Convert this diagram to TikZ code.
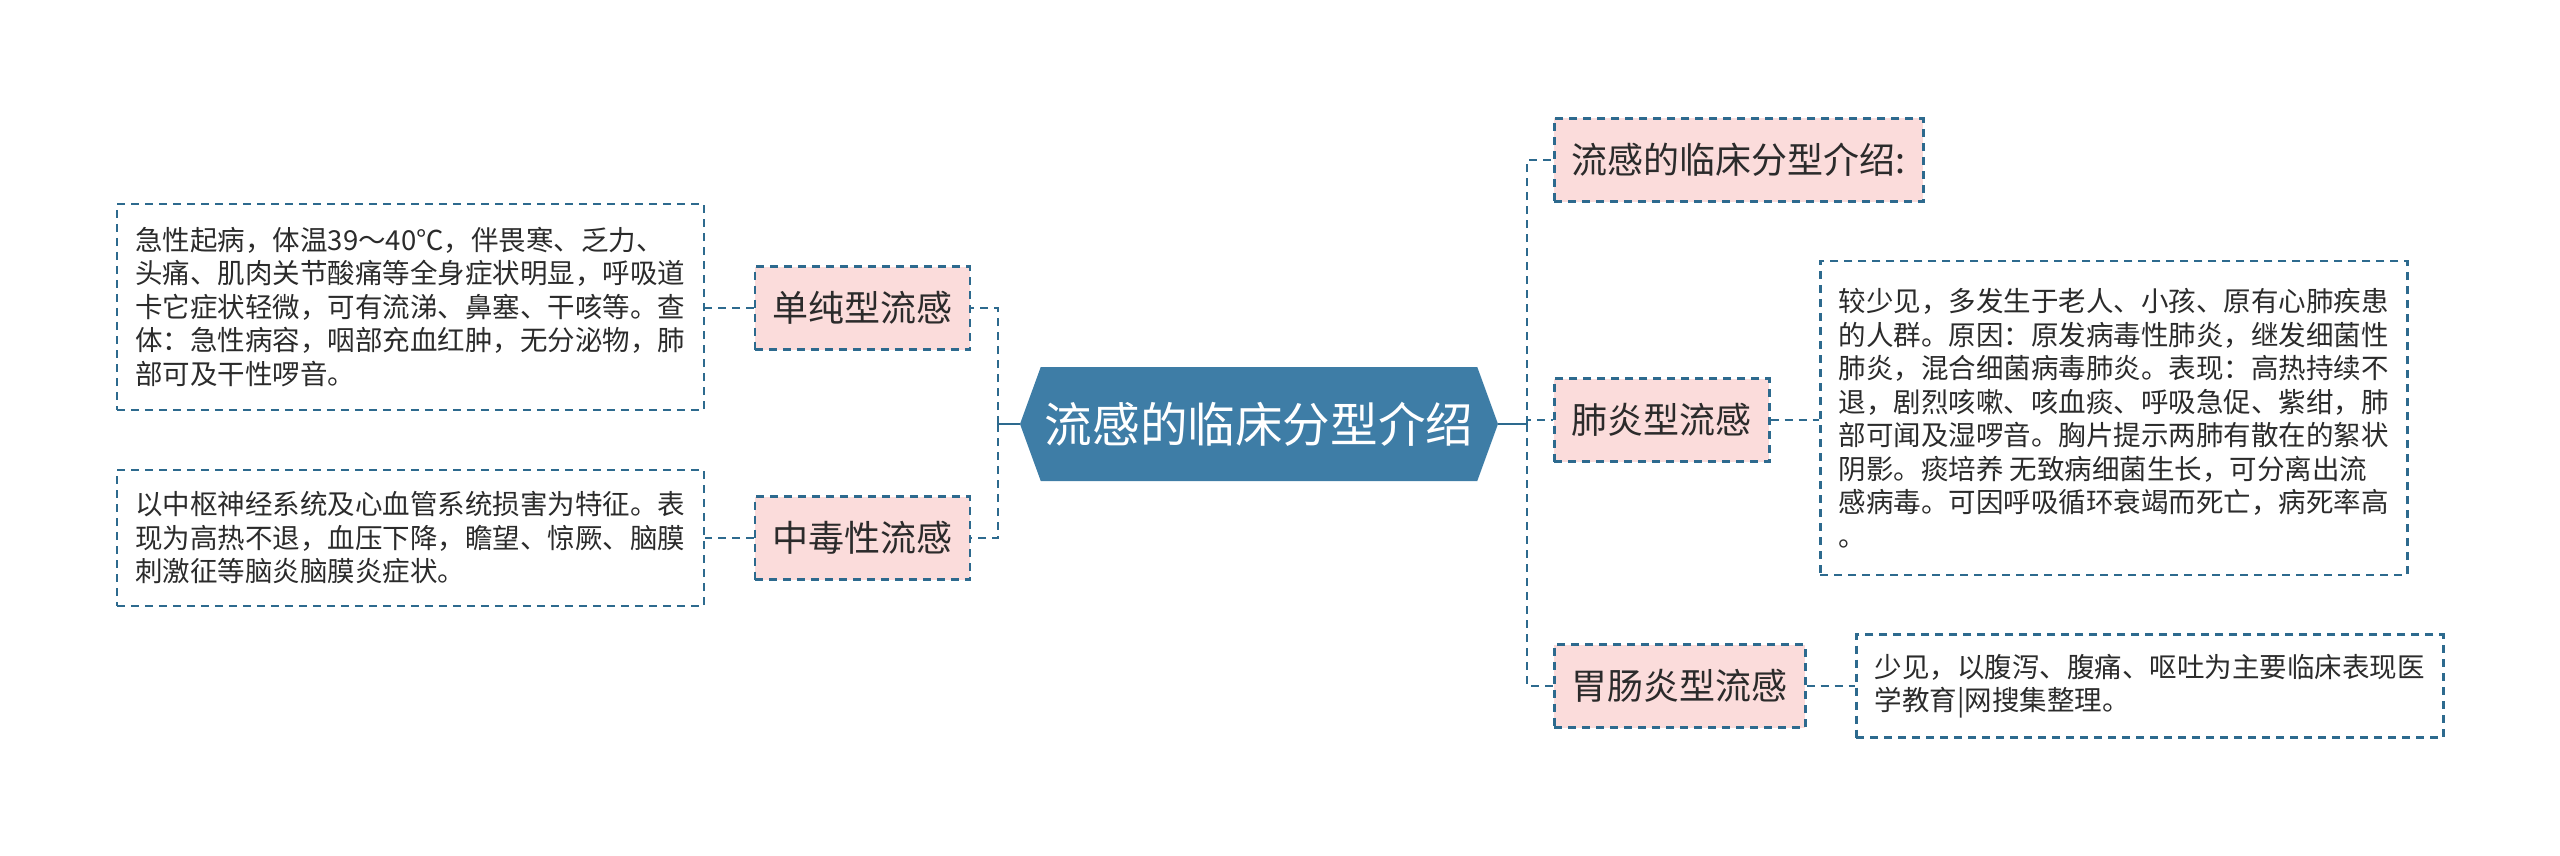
\documentclass[tikz,border=0pt]{standalone}
\usepackage{fontspec}
\setmainfont{Noto Sans CJK SC}
\usepackage{xcolor}
\usepackage{tikz}
\usetikzlibrary{shapes.symbols}
\definecolor{rootblue}{HTML}{3E7DA6}
\definecolor{lineblue}{HTML}{2D6A8E}
\definecolor{topicpink}{HTML}{FBDCDB}
\definecolor{inkgray}{HTML}{2B2B2B}
\tikzset{
  rootbox/.style={signal, signal to=west and east, signal pointer angle=140,
    fill=rootblue, inner sep=0pt, minimum width=239pt, minimum height=57pt,
    font=\fontsize{23.8}{28}\selectfont\color{white}},
  topicbox/.style={fill=topicpink, draw=lineblue, line width=1.25pt,
    dash pattern=on 4pt off 3pt, inner xsep=8.75pt, inner ysep=0pt,
    minimum height=41.5pt, font=\fontsize{18}{22}\selectfont\color{inkgray}},
  notebox/.style={draw=lineblue, line width=1.25pt, dash pattern=on 4pt off 3pt,
    align=left, inner sep=0pt, minimum width=293.5pt,
    font=\fontsize{13.75}{16.75}\selectfont\color{inkgray}},
  stem/.style={draw=lineblue, line width=1.25pt},
  twig/.style={draw=lineblue, line width=1.25pt, dash pattern=on 4pt off 3pt}
}

\begin{document}
\begin{tikzpicture}[x=0.5pt,y=-0.5pt]
  \useasboundingbox (0,0) rectangle (2560,856);

  \node[rootbox] (root) at (1259,424) {流感的临床分型介绍};
  \coordinate (lbus) at (998,424);
  \coordinate (rbus) at (1527,424);

  % left branch
  \node[topicbox, anchor=east] (simple) at (971,308) {单纯型流感};
  \node[topicbox, anchor=east] (toxic) at (971,538) {中毒性流感};
  \node[notebox, anchor=east, minimum height=103pt] (simplenote) at (705,307) {%
    急性起病，体温39～40℃，伴畏寒、乏力、\\
    头痛、肌肉关节酸痛等全身症状明显，呼吸道\\
    卡它症状轻微，可有流涕、鼻塞、干咳等。查\\
    体：急性病容，咽部充血红肿，无分泌物，肺\\
    部可及干性啰音。};
  \node[notebox, anchor=east, minimum height=68pt] (toxicnote) at (705,538) {%
    以中枢神经系统及心血管系统损害为特征。表\\
    现为高热不退，血压下降，瞻望、惊厥、脑膜\\
    刺激征等脑炎脑膜炎症状。};

  % right branch
  \node[topicbox, anchor=west] (intro) at (1553,160) {流感的临床分型介绍:};
  \node[topicbox, anchor=west] (lung) at (1553,420) {肺炎型流感};
  \node[topicbox, anchor=west] (gut) at (1553,686) {胃肠炎型流感};
  \node[notebox, anchor=west, minimum height=157pt] (lungnote) at (1819,418) {%
    较少见，多发生于老人、小孩、原有心肺疾患\\
    的人群。原因：原发病毒性肺炎，继发细菌性\\
    肺炎，混合细菌病毒肺炎。表现：高热持续不\\
    退，剧烈咳嗽、咳血痰、呼吸急促、紫绀，肺\\
    部可闻及湿啰音。胸片提示两肺有散在的絮状\\
    阴影。痰培养 无致病细菌生长，可分离出流\\
    感病毒。可因呼吸循环衰竭而死亡，病死率高\\
    。};
  \node[notebox, anchor=west, minimum height=51.5pt] (gutnote) at (1855,686) {%
    少见，以腹泻、腹痛、呕吐为主要临床表现医\\
    学教育|网搜集整理。};

  % connectors
  \draw[stem] (root.west) -- (lbus);
  \draw[stem] (root.east) -- (rbus);
  \draw[twig] (lbus) |- (simple.east);
  \draw[twig] (lbus) |- (toxic.east);
  \draw[twig] (rbus) |- (intro.west);
  \draw[twig] (rbus) |- (lung.west);
  \draw[twig] (rbus) |- (gut.west);
  \draw[twig] (simple.west) -- (simple.west -| simplenote.east);
  \draw[twig] (toxic.west) -- (toxic.west -| toxicnote.east);
  \draw[twig] (lung.east) -- (lung.east -| lungnote.west);
  \draw[twig] (gut.east) -- (gut.east -| gutnote.west);
\end{tikzpicture}
\end{document}
